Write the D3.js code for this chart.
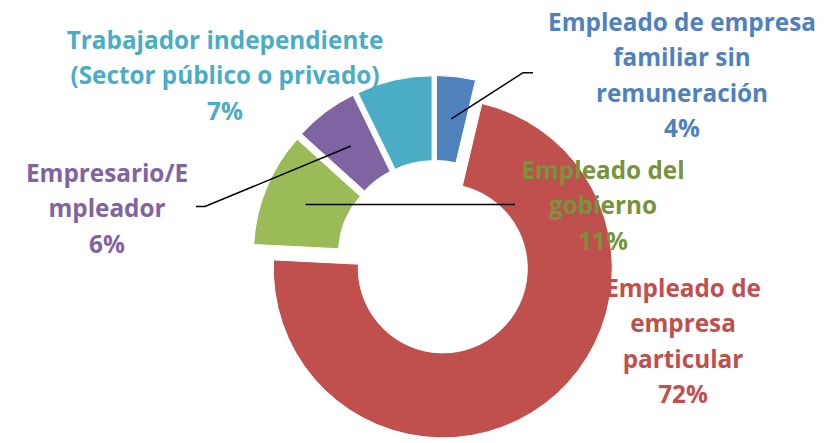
<!DOCTYPE html>
<html>
<head>
<meta charset="utf-8">
<script src="https://cdn.jsdelivr.net/npm/d3@7/dist/d3.min.js"></script>
<style>
  html, body { margin: 0; padding: 0; background: #fff; }
  svg { display: block; }
  text { font-family: "Open Sans", Lato, sans-serif; font-weight: bold; }
</style>
</head>
<body>
<svg id="chart" width="827" height="443"></svg>
<script>
// ---- data ----
const categories = [
  "Empleado de empresa familiar sin remuneración",
  "Empleado de empresa particular",
  "Empleado del gobierno",
  "Empresario/Empleador",
  "Trabajador independiente (Sector público o privado)"
];
const values = [3.7, 72.1, 10.9, 6.1, 7.2];
const labelLines = [
  ["Empleado de empresa", "familiar sin", "remuneración"],
  ["Empleado de", "empresa", "particular"],
  ["Empleado del", "gobierno"],
  ["Empresario/E", "mpleador"],
  ["Trabajador independiente", "(Sector público o privado)"]
];
const sliceColors = ["#4F81BD", "#C0504D", "#9BBB59", "#8064A2", "#4BACC6"];
const textColors  = ["#4F81BD", "#C0504D", "#77933C", "#8064A2", "#4BACC6"];

// ---- layout ----
const W = 827, H = 443;
const cx = 435, cy = 258;
const outerR = 169.5, innerR = 84.5, explode = 13;
const fontSize = 24.3, lineH = 35.5;
const labelPos = [
  { x: 682, y: 22 },
  { x: 683, y: 288 },
  { x: 603, y: 170 },
  { x: 107, y: 173 },
  { x: 225, y: 40 }
];
const leaders = [
  [[523, 72.7], [533, 72.7]],
  null,
  [[515, 204.5]],
  [[205, 206.5], [196, 206.5]],
  null
];

const svg = d3.select("#chart");
const data = categories.map((c, i) => ({ name: c, value: values[i], i }));
const pie = d3.pie().sort(null).value(d => d.value).startAngle(0).endAngle(2 * Math.PI);
const arcs = pie(data);
const arc = d3.arc().innerRadius(innerR).outerRadius(outerR);

const g = svg.append("g").attr("transform", `translate(${cx},${cy})`);

function offset(a) {
  const mid = (a.startAngle + a.endAngle) / 2;
  return [Math.sin(mid) * explode, -Math.cos(mid) * explode];
}

g.selectAll("path.slice")
  .data(arcs)
  .join("path")
  .attr("class", "slice")
  .attr("d", arc)
  .attr("transform", d => { const o = offset(d); return `translate(${o[0]},${o[1]})`; })
  .attr("fill", (d, i) => sliceColors[i])
  .attr("stroke", "#fff")
  .attr("stroke-width", 1);

arcs.forEach((a, i) => {
  if (!leaders[i]) return;
  const o = offset(a);
  const c = arc.centroid(a);
  const start = [cx + c[0] + o[0], cy + c[1] + o[1]];
  const pts = [start].concat(leaders[i]);
  svg.append("path")
    .attr("d", d3.line()(pts))
    .attr("fill", "none")
    .attr("stroke", "#000")
    .attr("stroke-width", 1.5);
});

arcs.forEach((a, i) => {
  const lines = labelLines[i].concat([Math.round(a.data.value) + "%"]);
  const t = svg.append("text")
    .attr("text-anchor", "middle")
    .attr("font-size", fontSize)
    .attr("fill", textColors[i]);
  lines.forEach((ln, k) => {
    t.append("tspan")
      .attr("x", labelPos[i].x)
      .attr("y", labelPos[i].y + k * lineH)
      .attr("dy", "0.35em")
      .text(ln);
  });
});
</script>
</body>
</html>
